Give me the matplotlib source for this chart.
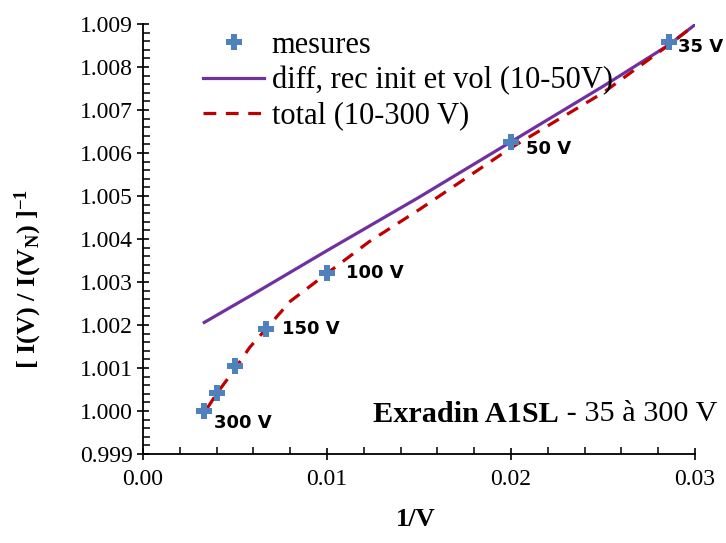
import matplotlib
matplotlib.use("Agg")
import matplotlib.pyplot as plt
from matplotlib.ticker import MultipleLocator, FormatStrFormatter

plt.rcParams['font.family'] = ['Liberation Serif', 'DejaVu Serif']
plt.rcParams['mathtext.fontset'] = 'custom'
plt.rcParams['mathtext.rm'] = 'Liberation Serif:bold'
plt.rcParams['mathtext.bf'] = 'Liberation Serif:bold'
plt.rcParams['mathtext.it'] = 'Liberation Serif:bold'

# Measurements
voltages = [35, 50, 100, 150, 200, 250, 300]
inv_v = [1/35, 1/50, 1/100, 1/150, 1/200, 1/250, 1/300]
meas = [1.00859, 1.00626, 1.0032, 1.0019, 1.00104, 1.00043, 1.0000]
labelled = ["35 V", "50 V", "100 V", "150 V", "", "", "300 V"]

# Model: diffusion + initial + volume recombination (fit 10-50 V)
solid_x = [0.00333, 0.006, 0.01, 0.015, 0.02, 0.025, 0.0286, 0.0302]
solid_y = [1.00206, 1.00272, 1.00373, 1.00497, 1.00626, 1.00755, 1.00852, 1.00905]

# Model: total (10-300 V)
dash_x = [0.0035, 0.004, 0.005, 0.0058, 0.00667, 0.008, 0.01, 0.0123, 0.015,
          0.0175, 0.02, 0.025, 0.0286, 0.0302]
dash_y = [1.00007, 1.00040, 1.00098, 1.00148, 1.00190, 1.00255, 1.00320, 1.00394,
          1.00468, 1.00540, 1.00612, 1.00740, 1.00852, 1.00905]

fig = plt.figure(figsize=(7.26, 5.43), dpi=100)
ax = fig.add_axes([143/726, 1-454/543, (695-143)/726, (454-24)/543])

ax.plot(inv_v, meas, linestyle='none', marker='P', markersize=11.5,
        color='#4F81BD', markeredgewidth=0, label='mesures', zorder=3)
ax.plot(solid_x, solid_y, color='#7030A0', lw=2.3,
        label='diff, rec init et vol (10-50V)', zorder=2)
ax.plot(dash_x, dash_y, color='#C00000', lw=2.3, dashes=(4, 3),
        label='total (10-300 V)', zorder=2)

offsets = {"35 V": (7, -4), "50 V": (11, -5.5), "100 V": (14, 0),
           "150 V": (12, 0), "300 V": (7, -8.5)}
for x, y, lab in zip(inv_v, meas, labelled):
    if lab:
        ax.annotate(lab, (x, y), xytext=offsets[lab], textcoords='offset points',
                    ha='left', va='center', fontsize=13, fontweight='bold',
                    family='DejaVu Sans')

ax.set_xlim(0, 0.03)
ax.set_ylim(0.999, 1.009)
ax.xaxis.set_major_locator(MultipleLocator(0.01))
ax.xaxis.set_minor_locator(MultipleLocator(0.002))
ax.yaxis.set_major_locator(MultipleLocator(0.001))
ax.yaxis.set_minor_locator(MultipleLocator(0.0002))
ax.xaxis.set_major_formatter(FormatStrFormatter('%.2f'))
ax.yaxis.set_major_formatter(FormatStrFormatter('%.3f'))

for s in ['top', 'right']:
    ax.spines[s].set_visible(False)
for s in ['left', 'bottom']:
    ax.spines[s].set_linewidth(1.3)

ax.tick_params(which='major', direction='inout', length=9, width=1.2,
               labelsize=17, pad=3)
ax.tick_params(which='minor', direction='in', length=5, width=1.1)
ax.tick_params(axis='x', which='major', pad=6)

ax.set_xlabel('1/V', fontsize=19, fontweight='bold', va='center')
ax.set_ylabel(r'[ I(V) / I(V$_{N}$) ]$^{-1}$', fontsize=19, fontweight='bold',
              va='center')
ax.xaxis.set_label_coords((416-143)/552, (454-520)/430)
ax.yaxis.set_label_coords((28-143)/552, (454-279)/430)

t1 = ax.annotate('Exradin A1SL', xy=(373/726, 1-414/543), xycoords='figure fraction',
                 ha='left', va='center', fontsize=21.8, fontweight='bold')
ax.annotate(' - 35 à 300 V', xy=(1, 0.5), xycoords=t1, ha='left', va='center',
            fontsize=21.8)

leg = ax.legend(loc='upper left', bbox_to_anchor=(203/726, 1-31/543),
                bbox_transform=fig.transFigure, frameon=False,
                prop={'size': 22},
                handlelength=2.0, handletextpad=0.25, labelspacing=0.2,
                borderpad=0, borderaxespad=0)

fig.savefig('out.png', dpi=100)
